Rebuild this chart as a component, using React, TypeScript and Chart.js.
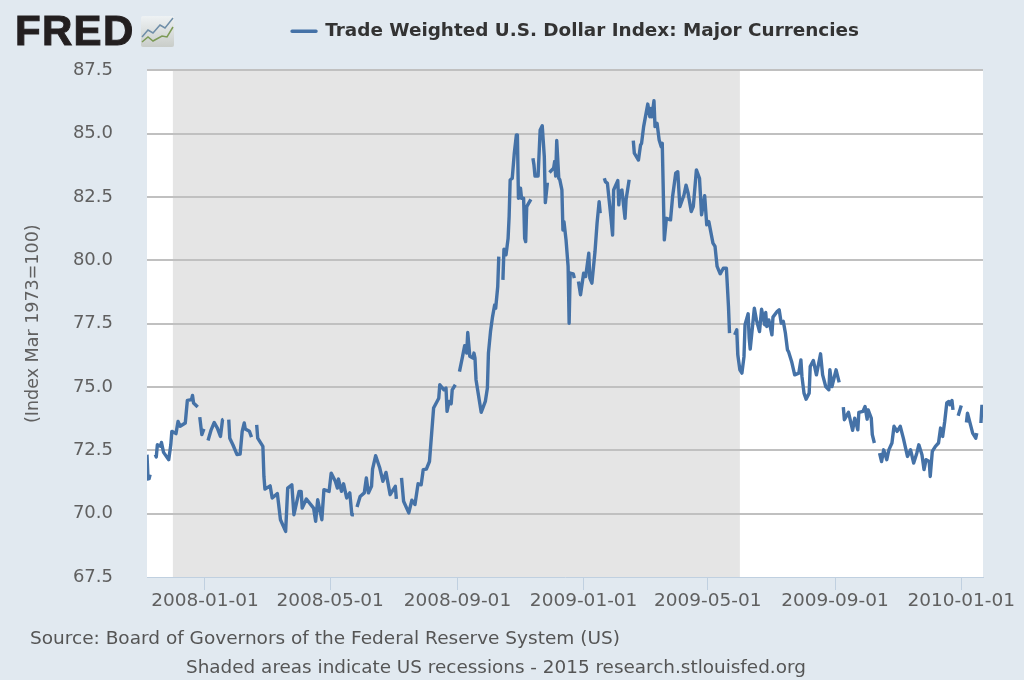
import React, { useEffect, useRef } from "react";
import { Chart, registerables } from "chart.js";

Chart.register(...registerables);

const seriesName = "Trade Weighted U.S. Dollar Index: Major Currencies";
const yTitle = "(Index Mar 1973=100)";
const sourceLine = "Source: Board of Governors of the Federal Reserve System (US)";
const shadedLine = "Shaded areas indicate US recessions - 2015 research.stlouisfed.org";

// x positions are days counted from 2008-01-01
const xMin = -56;
const xMax = 752;
const recessionStart = -31;
const recessionEnd = 517;
const tickDays = [0, 121, 244, 366, 486, 609, 731];
const tickLabels = ["2008-01-01", "2008-05-01", "2008-09-01", "2009-01-01", "2009-05-01", "2009-09-01", "2010-01-01"];

const days = [
  -56, -55, -54, -53, -52,
  -48, -47, -46, -43, -42, -40, -35, -33, -32, -28, -26, -24, -19, -17, -13, -12, -11, -7, -6,
  -5, -3, -1, 0,
  3, 6, 9, 12, 15, 17, 18, 19,
  23, 24, 27, 31, 34, 36, 38, 39, 43, 45, 46,
  50, 51, 56, 57, 58, 63, 65, 70, 73, 78, 80, 84, 86, 91, 93, 94, 98, 105, 107, 109, 113, 115, 120, 122, 126, 128, 129, 132, 134, 137, 140, 142, 144, 145,
  147, 150, 154, 156, 158, 161, 162, 165, 169, 172, 175, 179, 184, 185, 186,
  190, 192, 197, 200, 203, 206, 209, 211, 214, 217, 221, 226, 227, 231, 233, 234, 236, 238, 239, 242, 243,
  246, 249, 251, 253, 254, 256, 259, 260, 261, 262, 267, 271, 273, 274, 276, 278, 280, 281, 283, 284, 286,
  288, 289, 291, 293, 294, 295, 297, 299, 301, 302, 303, 305, 306, 308, 309, 310, 311, 315, 316,
  317, 318, 319, 322, 324, 326, 328, 329, 331, 332,
  333, 337, 338, 339, 340, 342, 343, 345, 346, 347, 349, 351, 352, 353, 356, 357, 358,
  361, 363, 366, 368, 371, 372, 374, 377, 379, 381, 382, 384,
  386, 387, 389, 392, 394, 395, 399, 400, 401, 403, 406, 407, 410, 412,
  414, 415, 419, 421, 422, 424, 428, 430, 431, 432, 434, 435, 437, 439, 441, 442, 444, 446, 450, 452, 455, 457, 459, 463, 465, 467, 470, 472, 475, 478, 480, 483, 485, 487, 491, 493, 495, 498, 501, 504, 506, 507, 509,
  512, 514, 515, 517, 519, 521, 522, 525, 526, 527, 531, 533, 536, 538, 541, 542, 543, 545, 548, 549, 553, 555, 557, 559, 561, 563, 564, 567, 570, 574, 576, 577, 579, 581, 584, 585, 588, 591, 595, 597, 600, 603, 604, 606, 610, 613, 615,
  617, 618, 622, 626, 628, 631, 632, 636, 638, 640, 641, 644, 645, 647, 649,
  652, 654, 656, 659, 661, 664, 666, 669, 672, 675, 679, 682, 685, 688, 690, 693, 695, 697, 700, 701, 703, 706, 709, 711, 713, 715, 717, 719, 720, 722, 723, 725,
  728, 731, 733,
  736, 737, 742, 745, 746, 748,
  750, 751,
];

const values: (number | null)[] = [
  72.33, 71.37, 71.38, 71.54, null,
  72.33, 72.24, 72.72, 72.66, 72.81, 72.42, 72.13, 72.72, 73.25, 73.16, 73.64, 73.45, 73.58, 74.47, 74.5, 74.67, 74.37, 74.21, null,
  73.81, 73.12, 73.35, null,
  72.89, 73.31, 73.6, 73.38, 73.05, 73.71, 73.73, null,
  73.71, 72.98, 72.72, 72.33, 72.35, 73.25, 73.58, 73.34, 73.25, 73.02, null,
  73.51, 72.98, 72.66, 71.47, 70.97, 71.1, 70.62, 70.79, 69.76, 69.3, 71.01, 71.14, 69.96, 70.88, 70.88, 70.22, 70.58, 70.22, 69.7, 70.55, 69.76, 70.95, 70.88, 71.6, 71.28, 71.01, 71.37, 70.88, 71.18, 70.62, 70.82, 69.96, 69.96, null,
  70.26, 70.68, 70.82, 71.41, 70.82, 71.08, 71.76, 72.29, 71.8, 71.28, 71.63, 70.75, 71.08, 70.58, null,
  71.41, 70.49, 70.03, 70.53, 70.36, 71.18, 71.14, 71.74, 71.76, 72.06, 74.17, 74.56, 75.09, 74.89, 74.96, 74.04, 74.43, 74.34, 74.89, 75.09, null,
  75.61, 76.21, 76.63, 76.34, 77.15, 76.21, 76.14, 76.34, 76.14, 75.29, 74.0, 74.43, 74.96, 76.34, 77.19, 77.78, 78.24, 78.11, 78.97, 80.15, null,
  79.23, 80.44, 80.22, 80.87, 81.73, 83.17, 83.24, 84.23, 84.95, 84.95, 82.45, 82.85, 82.45, 82.45, 80.87, 80.74, 82.12, 82.41, null,
  84.03, 83.77, 83.33, 83.33, 85.15, 85.31, 84.1, 82.28, 83.07, null,
  83.47, 83.64, 83.9, 83.33, 84.73, 83.24, 83.18, 82.78, 81.2, 81.53, 80.81, 79.76, 77.52, 79.5, 79.47, 79.3, null,
  79.17, 78.64, 79.49, 79.36, 80.28, 79.3, 79.1, 80.35, 81.47, 82.32, 81.86, null,
  83.24, 83.11, 83.04, 81.86, 81.0, 82.78, 83.15, 82.19, 82.71, 82.78, 81.66, 82.39, 83.18, null,
  84.73, 84.23, 83.96, 84.55, 84.62, 85.28, 86.17, 85.67, 86.0, 85.67, 86.3, 85.28, 85.41, 84.75, 84.49, 84.62, 80.81, 81.66, 81.6, 82.52, 83.44, 83.5, 82.12, 82.58, 82.97, 82.65, 81.93, 82.12, 83.57, 83.24, 81.8, 82.55, 81.4, 81.53, 80.68, 80.55, 79.76, 79.47, 79.69, 79.69, 78.18, 77.13, null,
  77.06, 77.26, 76.27, 75.68, 75.55, 76.2, 77.46, 77.89, 76.93, 76.5, 78.11, 77.65, 77.19, 78.07, 77.46, 77.94, 77.39, 77.65, 77.06, 77.76, 77.98, 78.05, 77.52, 77.59, 77.13, 76.47, 76.4, 76.01, 75.48, 75.55, 76.07, 75.42, 74.76, 74.52, 74.76, 75.81, 76.05, 75.48, 76.31, 75.48, 75.02, 74.89, 75.68, 75.02, 75.68, 75.18, null,
  74.21, 73.71, 74.0, 73.29, 73.77, 73.31, 74.0, 74.04, 74.23, 73.73, 74.1, 73.77, 73.12, 72.79, null,
  72.39, 72.06, 72.52, 72.13, 72.52, 72.79, 73.45, 73.25, 73.45, 72.98, 72.26, 72.52, 72.0, 72.39, 72.72, 72.33, 71.74, 72.13, 72.06, 71.47, 72.46, 72.66, 72.79, 73.38, 73.05, 73.64, 74.37, 74.43, 74.3, 74.47, 74.1, null,
  73.87, 74.27, null,
  73.6, 73.97, 73.18, 72.98, 73.18, null,
  73.58, 74.3,
];

const plotBackdrop = {
  id: "plotBackdrop",
  beforeDraw(chart: Chart) {
    const { ctx, chartArea, scales } = chart;
    const h = chartArea.bottom - chartArea.top;
    ctx.save();
    ctx.fillStyle = "#ffffff";
    ctx.fillRect(chartArea.left, chartArea.top, chartArea.right - chartArea.left, h);
    ctx.fillStyle = "#e5e5e5";
    const a = scales.x.getPixelForValue(recessionStart);
    const b = scales.x.getPixelForValue(recessionEnd);
    ctx.fillRect(a, chartArea.top, b - a, h);
    ctx.restore();
  },
};

// Reserves the gap under the legend and moves the legend to the right of the logo.
const legendPlacement = {
  id: "legendPlacement",
  beforeInit(chart: any) {
    const fit = chart.legend.fit;
    chart.legend.fit = function () {
      fit.call(this);
      this.height += 20;
    };
  },
  afterLayout(chart: any) {
    chart.legend.left += 145;
  },
};

export default function App() {
  const ref = useRef<HTMLCanvasElement>(null);
  useEffect(() => {
    if (!ref.current) return;
    const chart = new Chart(ref.current, {
      type: "line",
      data: {
        datasets: [
          {
            label: seriesName,
            data: days.map((d, i) => ({ x: d, y: values[i] })) as any,
            borderColor: "#4572a7",
            backgroundColor: "#4572a7",
            borderWidth: 3.4,
            pointRadius: 0,
            tension: 0,
            spanGaps: false,
            borderJoinStyle: "round",
          },
        ],
      },
      options: {
        responsive: false,
        animation: false,
        devicePixelRatio: 1,
        layout: { padding: { top: 10, right: 41, left: 23, bottom: 0 } },
        plugins: {
          tooltip: { enabled: false },
          legend: {
            display: true,
            position: "top",
            align: "center",
            labels: {
              boxWidth: 24,
              boxHeight: 0,
              padding: 12,
              color: "#333333",
              font: { family: "'DejaVu Sans'", size: 18.4, weight: "bold" },
            },
          },
        },
        scales: {
          x: {
            type: "linear",
            min: xMin,
            max: xMax,
            afterBuildTicks(axis: any) {
              axis.ticks = tickDays.map((v) => ({ value: v }));
            },
            afterFit(axis: any) {
              axis.height = 103;
            },
            ticks: {
              autoSkip: false,
              maxRotation: 0,
              minRotation: 0,
              padding: 0,
              color: "#606060",
              font: { family: "'DejaVu Sans'", size: 18.5 },
              callback: (v: any) => {
                const i = tickDays.indexOf(Number(v));
                return i >= 0 ? tickLabels[i] : "";
              },
            },
            grid: { drawOnChartArea: false, drawTicks: true, tickLength: 13, color: "#c0d0e0", lineWidth: 1 },
            border: { color: "#c0d0e0", width: 1 },
          },
          y: {
            type: "linear",
            min: 67.5,
            max: 87.5,
            afterFit(axis: any) {
              axis.width = 124;
            },
            title: {
              display: true,
              text: yTitle,
              color: "#606060",
              font: { family: "'DejaVu Sans'", size: 17.5 },
              padding: { top: 0, bottom: 34 },
            },
            ticks: {
              stepSize: 2.5,
              padding: 34,
              color: "#606060",
              font: { family: "'DejaVu Sans'", size: 18 },
              callback: (v: any) => Number(v).toFixed(1),
            },
            grid: {
              color: (c: any) => (c.tick && c.tick.value === 67.5 ? "rgba(0,0,0,0)" : "#c0c0c0"),
              lineWidth: 2,
              drawTicks: false,
            },
            border: { display: false },
          },
        },
      },
      plugins: [plotBackdrop, legendPlacement],
    } as any);
    return () => chart.destroy();
  }, []);

  return (
    <div style={{ position: "absolute", left: 0, top: 0, width: 1024, height: 680, background: "#e1e9f0", overflow: "hidden" }}>
      <canvas ref={ref} width={1024} height={680} style={{ display: "block", position: "absolute", left: 0, top: 0 }} />
      <div
        style={{
          position: "absolute",
          left: 15,
          top: 7,
          fontFamily: "'Liberation Sans'",
          fontWeight: 700,
          fontSize: 42,
          lineHeight: "48px",
          color: "#231f20",
          WebkitTextStroke: "1px #231f20",
          letterSpacing: 1.3,
        }}
      >
        FRED
      </div>
      <svg width={33} height={31} viewBox="0 0 33 31" style={{ position: "absolute", left: 141, top: 16 }}>
        <defs>
          <linearGradient id="logoBg" x1="0" y1="0" x2="0" y2="1">
            <stop offset="0" stopColor="#eef2f4" />
            <stop offset="1" stopColor="#c9cdc9" />
          </linearGradient>
        </defs>
        <rect width={33} height={31} rx={2} fill="url(#logoBg)" />
        <polyline points="1,21 7,14 12,17 19,9 24,12 32,2" fill="none" stroke="#6f8ea8" strokeWidth={1.5} />
        <polyline points="1,26 7,21 12,25 21,20 26,21 32,11" fill="none" stroke="#7c9a56" strokeWidth={1.5} />
      </svg>
      <div style={{ position: "absolute", left: 30, top: 627, fontFamily: "'DejaVu Sans'", fontSize: 18.5, color: "#555555", whiteSpace: "nowrap" }}>
        {sourceLine}
      </div>
      <div style={{ position: "absolute", left: 186, top: 656, fontFamily: "'DejaVu Sans'", fontSize: 18.4, color: "#555555", whiteSpace: "nowrap" }}>
        {shadedLine}
      </div>
    </div>
  );
}
